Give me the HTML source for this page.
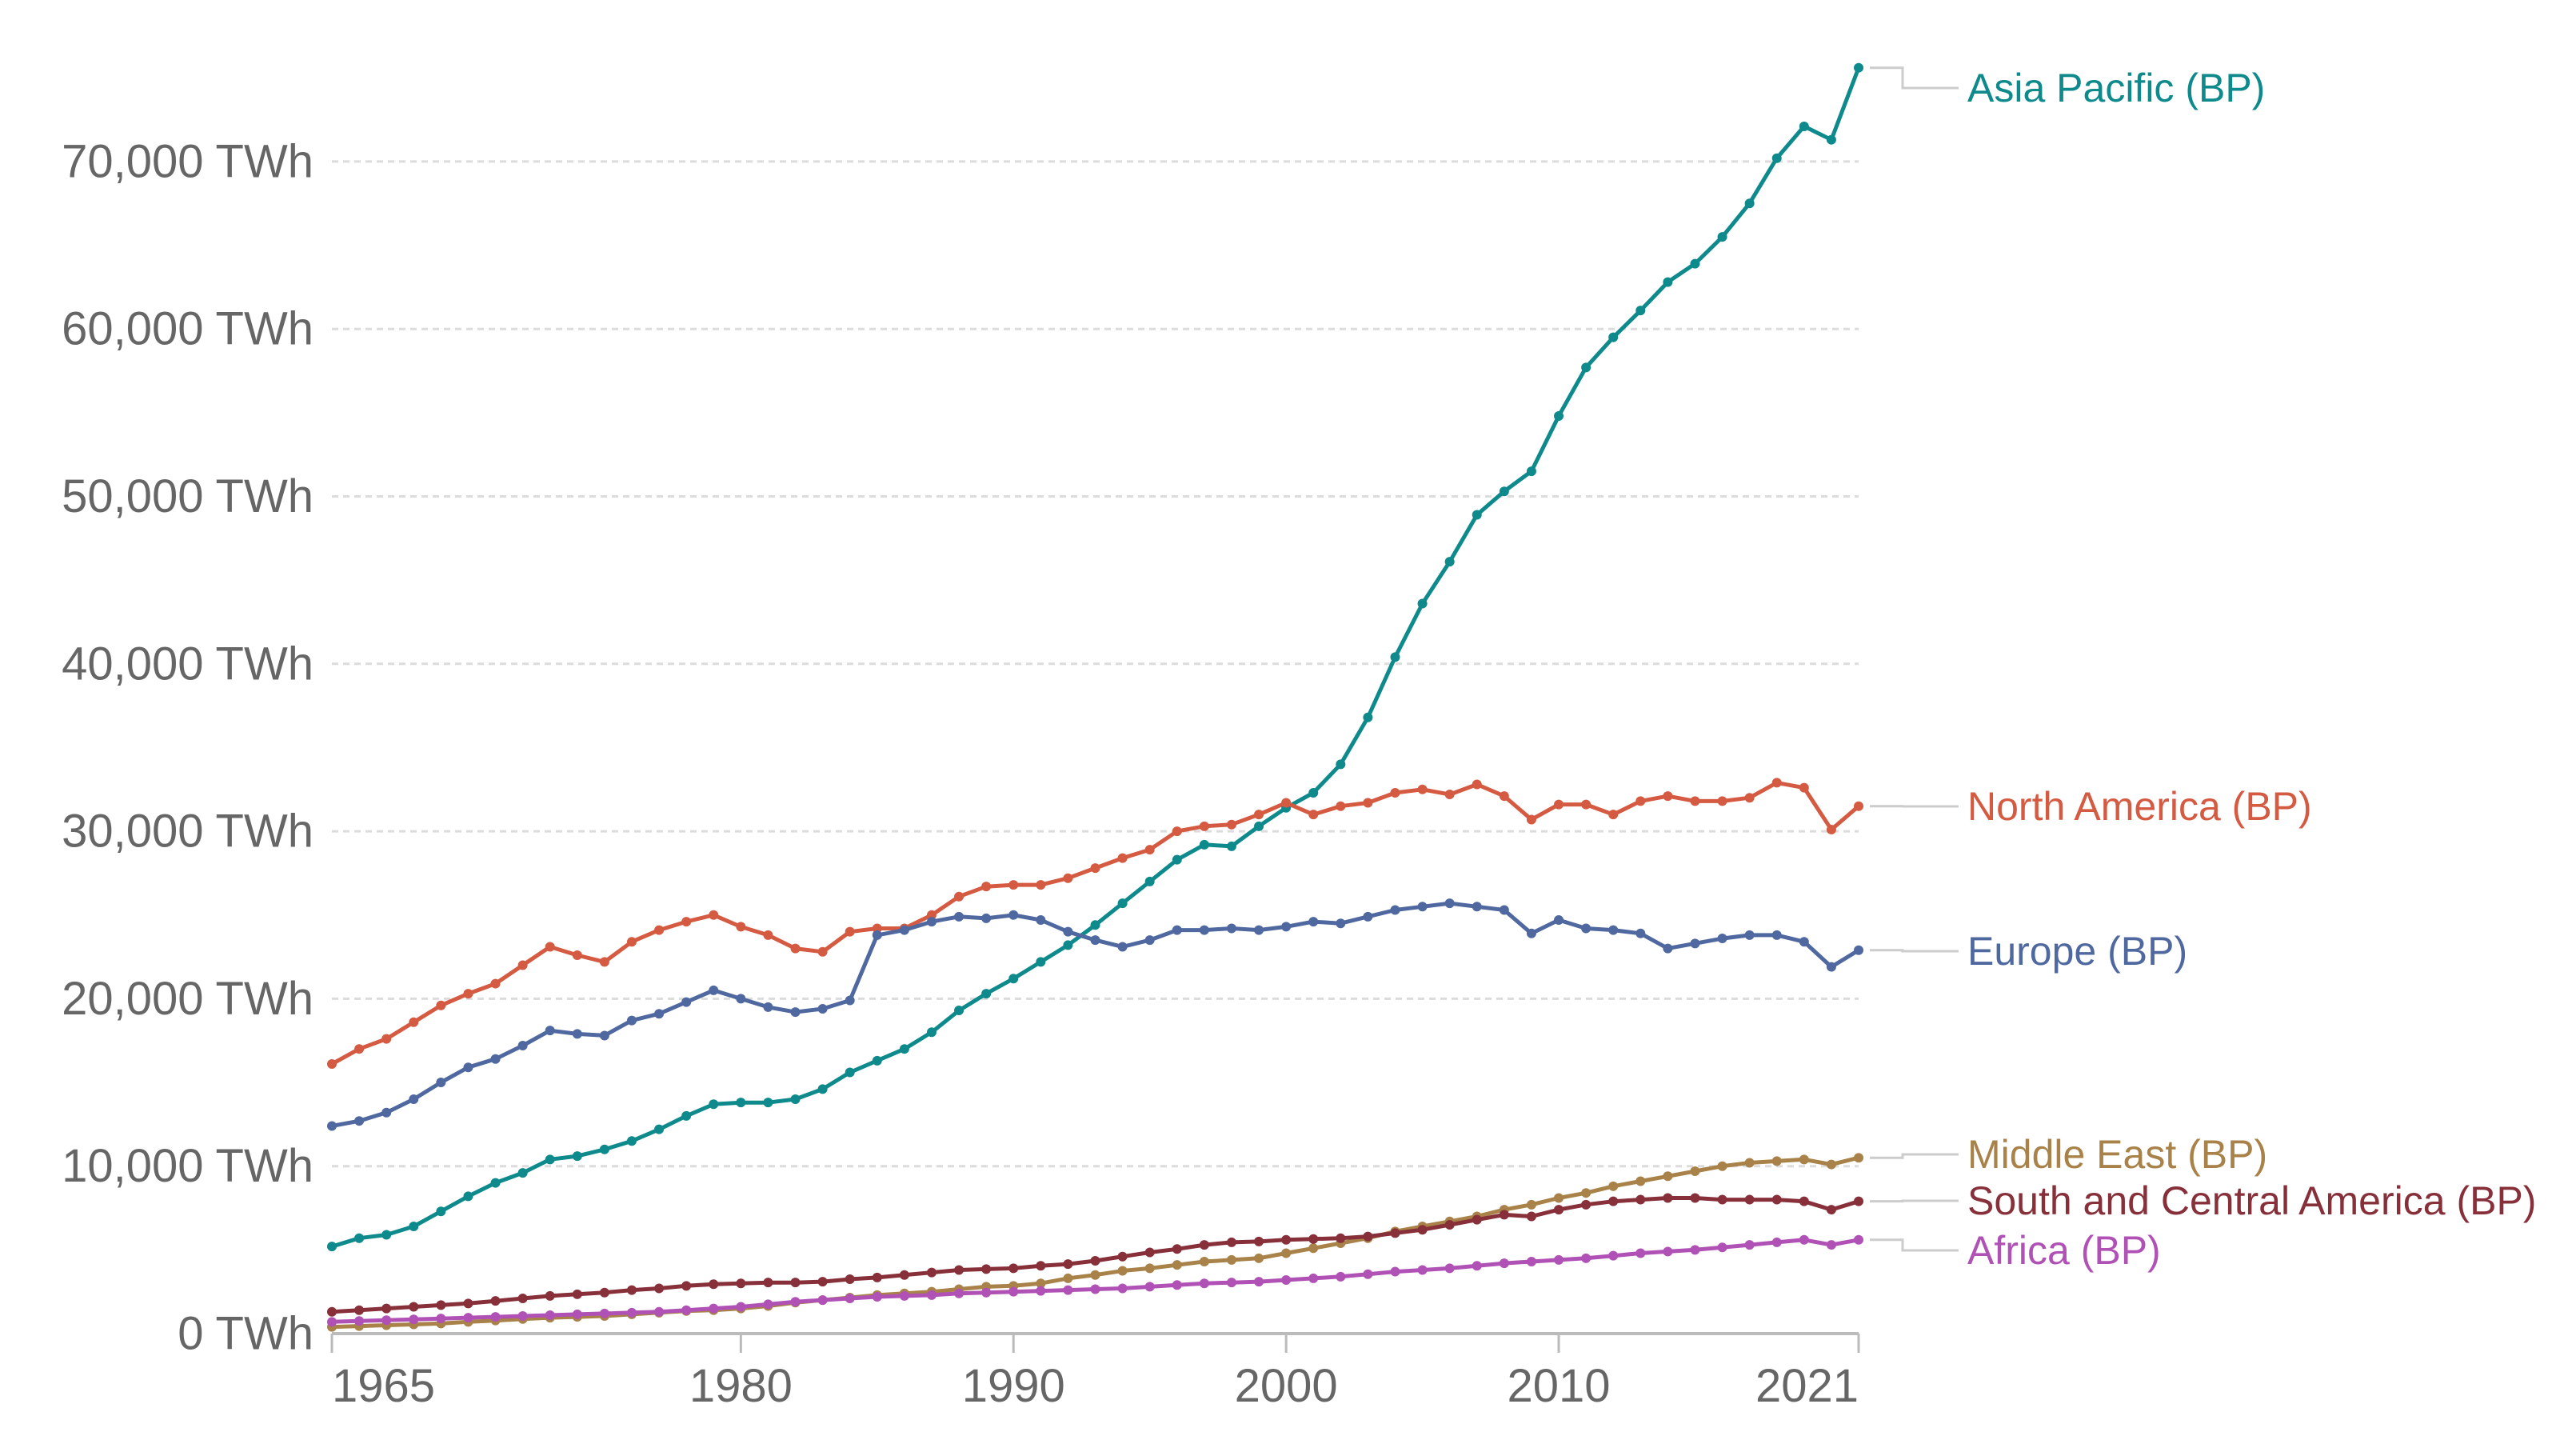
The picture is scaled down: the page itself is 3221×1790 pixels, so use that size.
<!DOCTYPE html>
<html><head><meta charset="utf-8"><style>
html,body{margin:0;padding:0;background:#fff;}
svg{display:block;font-family:"Liberation Sans",sans-serif;}
</style></head><body>
<svg id="chart" width="3221" height="1790" viewBox="0 0 3221 1790" xmlns="http://www.w3.org/2000/svg">
<g id="grid"></g>
<g id="axes"></g>
<g id="series"></g>
<g id="labels"></g>
</svg>
<script>
const startYear = 1965;
const yTicks = [0,10000,20000,30000,40000,50000,60000,70000];
const yTickLabels = ["0 TWh","10,000 TWh","20,000 TWh","30,000 TWh","40,000 TWh","50,000 TWh","60,000 TWh","70,000 TWh"];
const xTicks = [1965,1980,1990,2000,2010,2021];
const seriesNames = ["Asia Pacific (BP)","North America (BP)","Europe (BP)","Middle East (BP)","South and Central America (BP)","Africa (BP)"];
const asiaPacific = [5200,5700,5900,6400,7300,8200,9000,9600,10400,10600,11000,11500,12200,13000,13700,13800,13800,14000,14600,15600,16300,17000,18000,19300,20300,21200,22200,23200,24400,25700,27000,28300,29200,29100,30300,31400,32300,34000,36800,40400,43600,46100,48900,50300,51500,54800,57700,59500,61100,62800,63900,65500,67500,70200,72100,71300,75600];
const northAmerica = [16100,17000,17600,18600,19600,20300,20900,22000,23100,22600,22200,23400,24100,24600,25000,24300,23800,23000,22800,24000,24200,24200,25000,26100,26700,26800,26800,27200,27800,28400,28900,30000,30300,30400,31000,31700,31000,31500,31700,32300,32500,32200,32800,32100,30700,31600,31600,31000,31800,32100,31800,31800,32000,32900,32600,30100,31500];
const europe = [12400,12700,13200,14000,15000,15900,16400,17200,18100,17900,17800,18700,19100,19800,20500,20000,19500,19200,19400,19900,23800,24100,24600,24900,24800,25000,24700,24000,23500,23100,23500,24100,24100,24200,24100,24300,24600,24500,24900,25300,25500,25700,25500,25300,23900,24700,24200,24100,23900,23000,23300,23600,23800,23800,23400,21900,22900];
const middleEast = [400,450,500,550,600,700,780,870,950,1000,1050,1150,1250,1350,1400,1500,1650,1850,2000,2150,2300,2400,2500,2650,2800,2850,3000,3300,3500,3750,3900,4100,4300,4400,4500,4800,5100,5400,5700,6100,6400,6700,7000,7400,7700,8100,8400,8800,9100,9400,9700,10000,10200,10300,10400,10100,10500];
const southCentralAmerica = [1300,1400,1500,1600,1700,1800,1950,2100,2250,2350,2450,2600,2700,2850,2950,3000,3050,3050,3100,3250,3350,3500,3650,3800,3850,3900,4050,4150,4350,4600,4850,5050,5300,5450,5500,5600,5650,5700,5800,6000,6200,6500,6800,7100,7000,7400,7700,7900,8000,8100,8100,8000,8000,8000,7900,7400,7900];
const africa = [700,750,800,850,900,950,1000,1050,1100,1150,1200,1250,1300,1400,1500,1600,1750,1900,2000,2100,2200,2250,2300,2400,2450,2500,2550,2600,2650,2700,2800,2900,3000,3050,3100,3200,3300,3400,3550,3700,3800,3900,4050,4200,4300,4400,4500,4650,4800,4900,5000,5150,5300,5450,5600,5300,5600];

const NS = "http://www.w3.org/2000/svg";
const X0 = 415, X1 = 2324, Y0 = 1667, PER10K = 209.3;
function xs(year){ return X0 + (year - 1965) * (X1 - X0) / (2021 - 1965); }
function ys(v){ return Y0 - v / 10000 * PER10K; }
function mk(tag, attrs, parent){ const e = document.createElementNS(NS, tag); for (const k in attrs) e.setAttribute(k, attrs[k]); parent.appendChild(e); return e; }

const grid = document.getElementById('grid');
const axes = document.getElementById('axes');
yTicks.forEach((t, i) => {
  if (t > 0) {
    const l = mk('line', {x1: X0, x2: X1, y1: ys(t), y2: ys(t), stroke: '#dcdcdc', 'stroke-width': 3, 'stroke-dasharray': '8,6'}, grid);
    
    
  }
  const tx = mk('text', {x: 392, y: ys(t), 'text-anchor': 'end', 'dominant-baseline': 'central', 'font-size': 58, fill: '#666'}, axes);
  tx.textContent = yTickLabels[i];
  
  
});
const base = mk('line', {x1: X0, x2: X1, y1: Y0, y2: Y0, stroke: '#bbb', 'stroke-width': 4}, axes);


xTicks.forEach((yr, i) => {
  const tk = mk('line', {x1: xs(yr), x2: xs(yr), y1: Y0, y2: Y0 + 24, stroke: '#bbb', 'stroke-width': 3}, axes);
  
  
  const anchor = i === 0 ? 'start' : (i === xTicks.length - 1 ? 'end' : 'middle');
  const tx = mk('text', {x: xs(yr), y: 1752, 'text-anchor': anchor, 'font-size': 58, fill: '#666'}, axes);
  tx.textContent = String(yr);
  
  
});

const allSeries = [asiaPacific, northAmerica, europe, middleEast, southCentralAmerica, africa];
const colors = ['#0E8A8C', '#D55A42', '#4F69A0', '#A88248', '#87303A', '#B052B5'];
const labelY = [110, 1008, 1189, 1443, 1501, 1563];
const sg = document.getElementById('series');
const lg = document.getElementById('labels');
allSeries.forEach((vals, si) => {
  const g = mk('g', {}, sg);
  
  
  const pts = vals.map((v, i) => xs(startYear + i).toFixed(1) + ',' + ys(v).toFixed(1)).join(' ');
  const pl = mk('polyline', {points: pts, fill: 'none', stroke: colors[si], 'stroke-width': 5, 'stroke-linejoin': 'round'}, g);
  
  
  vals.forEach((v, i) => {
    const c = mk('circle', {cx: xs(startYear + i), cy: ys(v), r: 6, fill: colors[si]}, g);
    
    
  });
  const ey = ys(vals[vals.length - 1]);
  const conn = mk('polyline', {points: `${X1 + 14},${ey} ${X1 + 55},${ey} ${X1 + 55},${labelY[si]} ${X1 + 125},${labelY[si]}`, fill: 'none', stroke: '#ccc', 'stroke-width': 3}, lg);
  
  
  const tx = mk('text', {x: 2460, y: labelY[si], 'dominant-baseline': 'central', 'font-size': 50, fill: colors[si]}, lg);
  tx.textContent = seriesNames[si];
  
  
});
</script>
</body></html>
